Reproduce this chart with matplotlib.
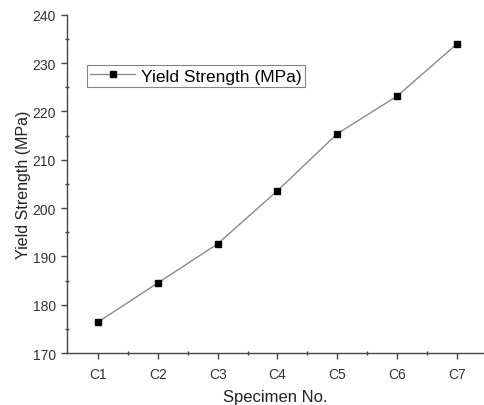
import numpy as np
import matplotlib.pyplot as plt

plt.rcParams['font.family'] = ['Liberation Sans', 'DejaVu Sans']

# Data
specimens = ['C1', 'C2', 'C3', 'C4', 'C5', 'C6', 'C7']
yield_strength = [176.4, 184.5, 192.6, 203.6, 215.4, 223.2, 234.0]

fig = plt.figure(figsize=(4.84, 4.06), dpi=100)
ax = fig.add_axes([0.138, 0.128, 0.862, 0.833])

x = np.arange(1, len(specimens) + 1)
ax.plot(x, yield_strength, color='#8a8a8a', linewidth=1.0,
        marker='s', markersize=5, markerfacecolor='black',
        markeredgecolor='black', label='Yield Strength (MPa)')

ax.set_xlim(0.48, 7.45)
ax.set_ylim(170, 240)
ax.set_xticks(x)
ax.set_xticklabels(specimens)
ax.set_xticks(x[:-1] + 0.5, minor=True)
ax.set_yticks(np.arange(170, 241, 10))
ax.set_yticks(np.arange(175, 240, 10), minor=True)

for side in ['top', 'right']:
    ax.spines[side].set_visible(False)
for side in ['left', 'bottom']:
    ax.spines[side].set_color('#444444')
    ax.spines[side].set_linewidth(1.0)

ax.tick_params(which='major', direction='out', length=4, width=1,
               color='#444444', labelsize=10, labelcolor='#333333', pad=4)
ax.tick_params(axis='x', which='major', pad=6)
ax.tick_params(which='minor', direction='inout', length=3, width=1,
               color='#444444')

ax.set_xlabel('Specimen No.', fontsize=12, color='#222222', labelpad=6)
ax.set_ylabel('Yield Strength (MPa)', fontsize=11.5, color='#222222', labelpad=1)

leg = ax.legend(loc='upper left', bbox_to_anchor=(0.048, 0.852), fontsize=12.5,
                frameon=True, fancybox=False, borderpad=0.2,
                handlelength=2.6, handletextpad=0.3, borderaxespad=0)
leg.get_frame().set_edgecolor('#666666')
leg.get_frame().set_linewidth(0.8)

plt.savefig('out.png', dpi=100)
